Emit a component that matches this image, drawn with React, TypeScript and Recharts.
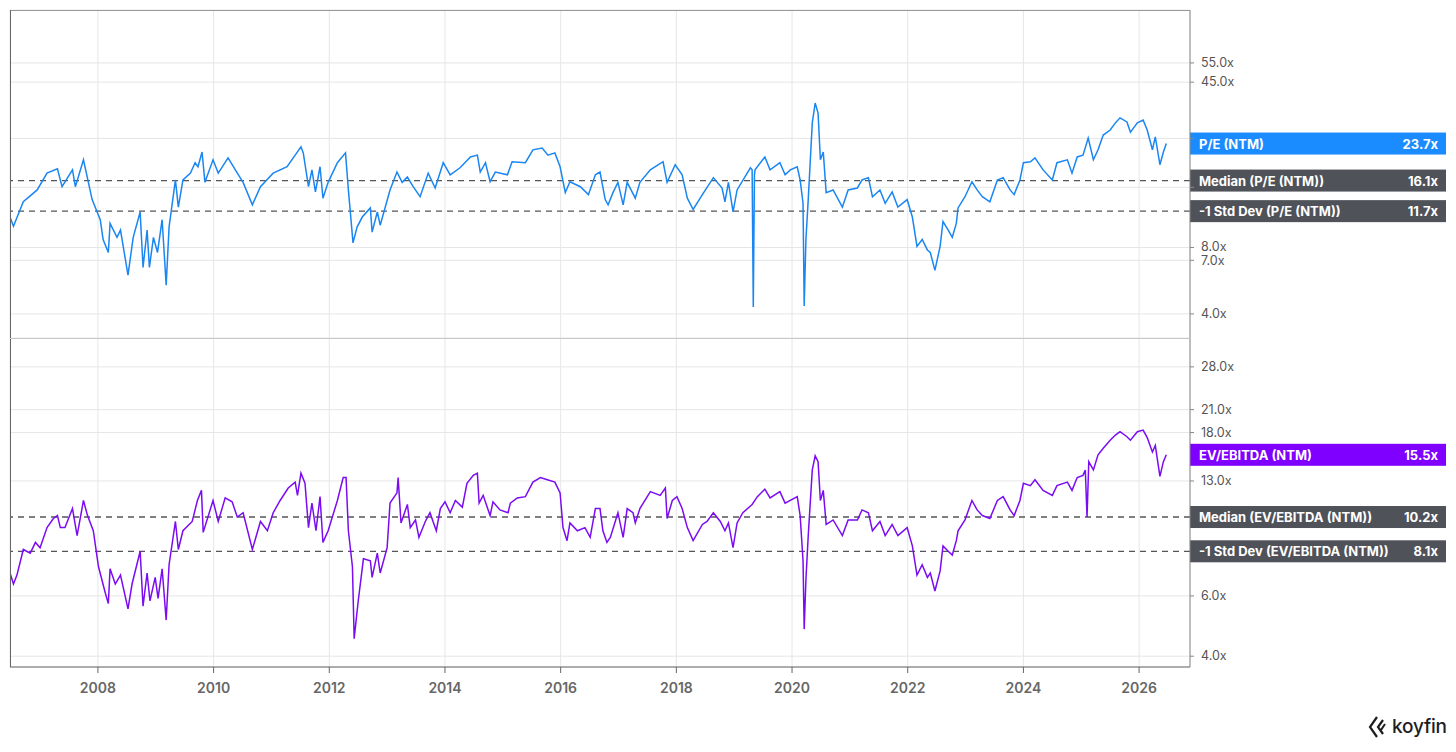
import React from 'react';
import { LineChart, Line, XAxis, YAxis, CartesianGrid, ReferenceLine } from 'recharts';

// decimal years
const peYears = [2006.48, 2006.54, 2006.71, 2006.95, 2007.12, 2007.30, 2007.38, 2007.56, 2007.61, 2007.75, 2007.90, 2008.04, 2008.09, 2008.18, 2008.21, 2008.33, 2008.39, 2008.52, 2008.61, 2008.73, 2008.78, 2008.85, 2008.89, 2008.96, 2009.03, 2009.11, 2009.18, 2009.23, 2009.34, 2009.39, 2009.47, 2009.60, 2009.68, 2009.73, 2009.80, 2009.85, 2009.99, 2010.08, 2010.25, 2010.41, 2010.51, 2010.67, 2010.81, 2011.03, 2011.27, 2011.41, 2011.51, 2011.55, 2011.64, 2011.70, 2011.76, 2011.84, 2011.89, 2011.98, 2012.14, 2012.28, 2012.33, 2012.41, 2012.48, 2012.57, 2012.71, 2012.74, 2012.83, 2012.88, 2013.05, 2013.17, 2013.26, 2013.35, 2013.45, 2013.57, 2013.71, 2013.83, 2013.97, 2014.09, 2014.26, 2014.44, 2014.56, 2014.61, 2014.70, 2014.78, 2014.87, 2015.08, 2015.16, 2015.39, 2015.52, 2015.68, 2015.78, 2015.90, 2015.99, 2016.08, 2016.16, 2016.34, 2016.48, 2016.60, 2016.68, 2016.77, 2016.82, 2016.91, 2016.99, 2017.08, 2017.15, 2017.29, 2017.37, 2017.55, 2017.77, 2017.84, 2017.98, 2018.10, 2018.19, 2018.29, 2018.45, 2018.64, 2018.79, 2018.84, 2018.90, 2018.98, 2019.05, 2019.28, 2019.31, 2019.33, 2019.35, 2019.36, 2019.53, 2019.62, 2019.79, 2019.88, 2019.97, 2020.09, 2020.14, 2020.19, 2020.21, 2020.24, 2020.28, 2020.35, 2020.40, 2020.45, 2020.49, 2020.54, 2020.59, 2020.71, 2020.87, 2020.97, 2021.13, 2021.21, 2021.32, 2021.39, 2021.52, 2021.61, 2021.73, 2021.83, 2021.99, 2022.08, 2022.16, 2022.25, 2022.34, 2022.39, 2022.47, 2022.56, 2022.61, 2022.70, 2022.77, 2022.84, 2022.87, 2022.99, 2023.11, 2023.20, 2023.29, 2023.42, 2023.55, 2023.65, 2023.77, 2023.84, 2023.94, 2024.00, 2024.12, 2024.20, 2024.34, 2024.50, 2024.58, 2024.76, 2024.84, 2024.93, 2025.03, 2025.12, 2025.21, 2025.29, 2025.38, 2025.50, 2025.59, 2025.67, 2025.79, 2025.85, 2025.97, 2026.07, 2026.14, 2026.23, 2026.28, 2026.36, 2026.42, 2026.47];
const peValues = [11.0, 10.0, 12.9, 14.6, 17.4, 18.2, 15.1, 18.0, 15.1, 20.0, 13.2, 10.7, 8.7, 7.6, 10.3, 8.9, 9.6, 6.0, 8.9, 11.6, 6.5, 9.6, 6.5, 8.9, 7.6, 10.7, 5.4, 9.9, 16.2, 12.2, 16.2, 17.4, 19.4, 18.6, 21.7, 15.8, 20.0, 17.4, 20.4, 17.4, 15.8, 12.5, 15.1, 17.4, 18.6, 21.0, 22.9, 21.5, 15.1, 18.0, 14.3, 18.6, 13.4, 15.8, 19.4, 21.5, 14.6, 8.4, 9.9, 11.0, 12.1, 9.4, 11.6, 10.1, 14.6, 17.6, 15.8, 16.7, 15.1, 13.6, 17.4, 14.9, 19.4, 17.1, 18.4, 20.6, 21.0, 17.6, 19.4, 15.9, 17.6, 17.1, 19.6, 19.4, 22.2, 22.6, 21.0, 21.5, 18.6, 14.2, 15.9, 15.1, 13.9, 17.1, 17.6, 13.2, 12.5, 14.3, 15.8, 12.5, 15.8, 13.4, 15.8, 18.0, 19.6, 15.8, 19.0, 17.1, 13.4, 11.9, 13.9, 16.6, 14.9, 12.9, 15.8, 11.6, 14.6, 18.4, 18.0, 4.3, 17.1, 18.0, 20.6, 18.0, 19.4, 17.1, 18.0, 18.6, 16.2, 12.7, 4.35, 8.7, 13.2, 29.4, 36.2, 32.6, 20.0, 21.7, 14.2, 14.6, 12.2, 14.6, 14.9, 16.2, 16.6, 13.6, 14.6, 12.7, 14.3, 12.2, 13.2, 11.0, 8.1, 8.7, 7.8, 7.6, 6.3, 8.1, 10.5, 9.6, 8.9, 10.3, 12.1, 13.6, 15.9, 14.6, 13.6, 12.9, 16.2, 16.6, 14.6, 13.9, 16.2, 19.4, 19.6, 20.4, 18.0, 16.2, 19.4, 20.0, 17.4, 20.6, 21.0, 25.1, 20.0, 22.2, 25.9, 27.3, 29.4, 31.0, 29.7, 26.7, 29.4, 30.3, 27.3, 22.2, 25.4, 19.0, 21.7, 23.7];

const evYears = [2006.48, 2006.54, 2006.60, 2006.71, 2006.83, 2006.92, 2007.00, 2007.12, 2007.23, 2007.30, 2007.35, 2007.43, 2007.56, 2007.64, 2007.75, 2007.82, 2007.92, 2008.01, 2008.13, 2008.18, 2008.21, 2008.30, 2008.39, 2008.52, 2008.59, 2008.73, 2008.78, 2008.85, 2008.90, 2008.99, 2009.04, 2009.11, 2009.18, 2009.23, 2009.34, 2009.39, 2009.47, 2009.63, 2009.72, 2009.79, 2009.82, 2009.99, 2010.08, 2010.20, 2010.32, 2010.41, 2010.51, 2010.67, 2010.81, 2010.93, 2011.03, 2011.15, 2011.29, 2011.41, 2011.45, 2011.51, 2011.58, 2011.64, 2011.70, 2011.77, 2011.84, 2011.89, 2011.98, 2012.14, 2012.24, 2012.29, 2012.33, 2012.40, 2012.43, 2012.50, 2012.59, 2012.71, 2012.74, 2012.83, 2012.88, 2013.00, 2013.05, 2013.17, 2013.19, 2013.24, 2013.35, 2013.40, 2013.49, 2013.55, 2013.66, 2013.74, 2013.85, 2013.92, 2014.00, 2014.09, 2014.18, 2014.30, 2014.38, 2014.49, 2014.56, 2014.59, 2014.66, 2014.78, 2014.83, 2014.95, 2015.09, 2015.13, 2015.25, 2015.39, 2015.52, 2015.65, 2015.77, 2015.90, 2015.99, 2016.04, 2016.11, 2016.16, 2016.29, 2016.42, 2016.51, 2016.60, 2016.68, 2016.73, 2016.80, 2016.86, 2016.99, 2017.08, 2017.15, 2017.25, 2017.29, 2017.37, 2017.55, 2017.72, 2017.81, 2017.84, 2017.93, 2018.01, 2018.10, 2018.19, 2018.29, 2018.45, 2018.53, 2018.64, 2018.76, 2018.84, 2018.90, 2018.98, 2019.05, 2019.15, 2019.31, 2019.40, 2019.53, 2019.62, 2019.79, 2019.88, 2020.09, 2020.14, 2020.19, 2020.21, 2020.24, 2020.28, 2020.35, 2020.40, 2020.45, 2020.49, 2020.54, 2020.59, 2020.71, 2020.87, 2020.97, 2021.13, 2021.21, 2021.32, 2021.39, 2021.52, 2021.61, 2021.73, 2021.83, 2021.99, 2022.08, 2022.16, 2022.25, 2022.34, 2022.39, 2022.47, 2022.56, 2022.61, 2022.70, 2022.77, 2022.84, 2022.87, 2022.99, 2023.11, 2023.20, 2023.29, 2023.42, 2023.55, 2023.65, 2023.77, 2023.84, 2023.94, 2024.00, 2024.12, 2024.20, 2024.34, 2024.50, 2024.58, 2024.76, 2024.84, 2024.93, 2025.03, 2025.07, 2025.10, 2025.13, 2025.21, 2025.29, 2025.38, 2025.50, 2025.59, 2025.67, 2025.79, 2025.85, 2025.97, 2026.07, 2026.14, 2026.23, 2026.28, 2026.36, 2026.42, 2026.47];
const evValues = [7.0, 6.5, 6.9, 8.2, 8.0, 8.6, 8.3, 9.5, 10.1, 10.3, 9.5, 9.5, 10.8, 9.0, 11.4, 10.3, 9.3, 7.3, 6.1, 5.7, 7.2, 6.5, 6.9, 5.5, 6.5, 8.1, 5.6, 7.0, 5.8, 6.8, 5.9, 7.2, 5.1, 7.4, 9.9, 8.2, 9.3, 9.9, 11.4, 12.2, 9.2, 11.4, 9.9, 11.6, 11.3, 10.2, 10.5, 8.2, 9.9, 9.3, 10.5, 11.4, 12.4, 12.9, 11.8, 13.7, 12.8, 9.5, 11.2, 9.3, 11.7, 8.6, 9.3, 11.4, 13.3, 13.3, 9.3, 7.3, 4.5, 5.8, 7.7, 7.6, 6.8, 8.0, 7.0, 8.3, 11.2, 12.0, 13.3, 9.8, 11.1, 9.5, 10.0, 8.9, 9.9, 10.5, 9.3, 10.8, 11.3, 10.5, 11.4, 10.9, 12.8, 13.5, 13.7, 11.2, 11.8, 10.3, 11.3, 10.7, 10.5, 11.2, 11.6, 11.7, 12.9, 13.3, 13.1, 12.9, 12.0, 9.5, 8.7, 9.8, 9.3, 9.5, 8.9, 10.8, 10.8, 9.3, 8.6, 8.9, 10.5, 8.9, 10.8, 10.5, 9.8, 10.8, 12.1, 11.8, 12.4, 10.1, 11.4, 11.7, 10.8, 9.5, 8.7, 9.7, 9.9, 10.5, 9.9, 9.3, 9.8, 8.3, 9.8, 10.5, 11.1, 11.7, 12.3, 11.6, 12.1, 11.2, 11.7, 10.3, 7.6, 4.8, 6.7, 9.0, 14.0, 15.4, 14.8, 11.4, 12.2, 9.7, 10.0, 9.0, 10.0, 10.0, 10.7, 10.5, 9.3, 9.9, 9.0, 9.7, 9.0, 9.5, 8.4, 6.9, 7.4, 6.8, 7.0, 6.2, 7.1, 8.4, 8.1, 7.9, 8.7, 9.3, 10.0, 11.4, 10.7, 10.3, 10.1, 11.4, 11.7, 10.7, 10.3, 11.4, 12.8, 12.6, 13.1, 12.2, 11.8, 12.6, 12.9, 12.2, 13.3, 13.5, 14.0, 10.2, 14.8, 14.0, 15.5, 16.2, 17.1, 17.7, 18.1, 17.5, 17.1, 18.1, 18.3, 17.4, 15.8, 16.5, 13.4, 14.8, 15.5];

const yearTicks = [2008, 2010, 2012, 2014, 2016, 2018, 2020, 2022, 2024, 2026];
const peTicks = [4, 7, 8, 15, 25, 45, 55];
const peHiddenTicks = [15, 25];
const evTicks = [4, 6, 13, 18, 21, 28];

const peLast = 23.7;
const peMedian = 16.1;
const peStdLow = 11.7;
const evLast = 15.5;
const evMedian = 10.2;
const evStdLow = 8.1;

const peData = peYears.map((t, i) => ({ t, v: peValues[i] }));
const evData = evYears.map((t, i) => ({ t, v: evValues[i] }));

const FONT = 'Inter, "Noto Sans", sans-serif';
const X_DOMAIN: [number, number] = [2006.48, 2026.88];

const tag = (name: string, value: string, color: string) => (props: any) => {
  const vb = props.viewBox || {};
  const x = vb.x + vb.width;
  const y = vb.y;
  return (
    <g>
      <rect x={x} y={y - 11} width={256} height={22} fill={color} />
      <text x={x + 9} y={y + 5} fill="#fff" fontSize={13} fontWeight={700} fontFamily={FONT}>{name}</text>
      <text x={x + 248} y={y + 5} fill="#fff" fontSize={13} fontWeight={700} fontFamily={FONT} textAnchor="end">{value}</text>
    </g>
  );
};

// 8.0x and 7.0x sit very close together, nudge them apart a touch
const nudge: Record<number, number> = { 8: -1, 7: 1 };

const yTick = (hidden: number[]) => (props: any) => {
  const { x, y, payload } = props;
  if (hidden.includes(payload.value)) return <g />;
  const dy = nudge[payload.value] || 0;
  return (
    <text x={x} y={y + 4 + dy} fill="#555" fontSize={12.5} fontFamily={FONT}>{payload.value.toFixed(1)}x</text>
  );
};

const dashStyle = { stroke: '#555', strokeDasharray: '6 5', strokeWidth: 1.3 };

export default function App() {
  return (
    <div style={{ position: 'absolute', left: 0, top: 0, width: 1456, height: 752, background: '#fff', fontFamily: FONT }}>
      <div style={{ position: 'absolute', left: 0, top: 0 }}>
        <LineChart width={1456} height={340} data={peData} margin={{ top: 10, right: 206, bottom: 2, left: 10 }}>
          <CartesianGrid stroke="#e6e6e6" />
          <XAxis dataKey="t" type="number" domain={X_DOMAIN} ticks={yearTicks} hide allowDataOverflow />
          <YAxis
            orientation="right"
            scale="log"
            domain={[3.11, 95.6]}
            ticks={peTicks}
            interval={0}
            allowDataOverflow
            width={60}
            axisLine={{ stroke: '#888' }}
            tickLine={{ stroke: '#888' }}
            tickSize={4}
            tickMargin={7}
            tick={yTick(peHiddenTicks)}
          />
          <ReferenceLine y={peMedian} {...dashStyle} label={tag('Median (P/E (NTM))', '16.1x', '#4f5258')} />
          <ReferenceLine y={peStdLow} {...dashStyle} label={tag('-1 Std Dev (P/E (NTM))', '11.7x', '#4f5258')} />
          <Line type="linear" dataKey="v" stroke="#1a86f2" strokeWidth={1.5} dot={false} isAnimationActive={false} />
          <ReferenceLine y={peLast} stroke="none" label={tag('P/E (NTM)', '23.7x', '#1a8cff')} />
        </LineChart>
      </div>
      <div style={{ position: 'absolute', left: 0, top: 338 }}>
        <LineChart width={1456} height={414} data={evData} margin={{ top: 0, right: 206, bottom: 52, left: 10 }}>
          <CartesianGrid stroke="#e6e6e6" />
          <XAxis
            dataKey="t"
            type="number"
            domain={X_DOMAIN}
            ticks={yearTicks}
            interval={0}
            allowDataOverflow
            height={33}
            axisLine={{ stroke: '#666' }}
            tickLine={{ stroke: '#666' }}
            tickSize={6}
            tickMargin={10}
            tick={{ fill: '#666', fontSize: 14, fontWeight: 600, fontFamily: FONT }}
          />
          <YAxis
            orientation="right"
            scale="log"
            domain={[3.72, 34.0]}
            ticks={evTicks}
            interval={0}
            allowDataOverflow
            width={60}
            axisLine={{ stroke: '#888' }}
            tickLine={{ stroke: '#888' }}
            tickSize={4}
            tickMargin={7}
            tick={yTick([])}
          />
          <ReferenceLine y={evMedian} {...dashStyle} label={tag('Median (EV/EBITDA (NTM))', '10.2x', '#4f5258')} />
          <ReferenceLine y={evStdLow} {...dashStyle} label={tag('-1 Std Dev (EV/EBITDA (NTM))', '8.1x', '#4f5258')} />
          <Line type="linear" dataKey="v" stroke="#7b0cf2" strokeWidth={1.5} dot={false} isAnimationActive={false} />
          <ReferenceLine y={evLast} stroke="none" label={tag('EV/EBITDA (NTM)', '15.5x', '#8000ff')} />
        </LineChart>
      </div>
      {/* panel frame */}
      <div style={{ position: 'absolute', left: 10, top: 10, width: 1180, height: 0, borderTop: '1px solid #999' }} />
      <div style={{ position: 'absolute', left: 10, top: 10, width: 0, height: 657, borderLeft: '1px solid #666' }} />
      <div style={{ position: 'absolute', left: 10, top: 338, width: 1180, height: 0, borderTop: '1px solid #c8c8c8' }} />
      {/* koyfin logo */}
      <div style={{ position: 'absolute', left: 1368, top: 715, display: 'flex', alignItems: 'center', color: '#1d1d1f' }}>
        <svg width={20} height={24} viewBox="0 0 20 24">
          <path d="M9 2 L2 12 L9 22" fill="none" stroke="#1d1d1f" strokeWidth={2.2} />
          <path d="M15 5 L10 12 L15 19" fill="none" stroke="#1d1d1f" strokeWidth={2.2} />
          <path d="M17 9 L13 15" fill="none" stroke="#1d1d1f" strokeWidth={2} />
        </svg>
        <span style={{ fontSize: 19, fontWeight: 500, marginLeft: 4, letterSpacing: -0.2, lineHeight: '24px' }}>koyfin</span>
      </div>
    </div>
  );
}
